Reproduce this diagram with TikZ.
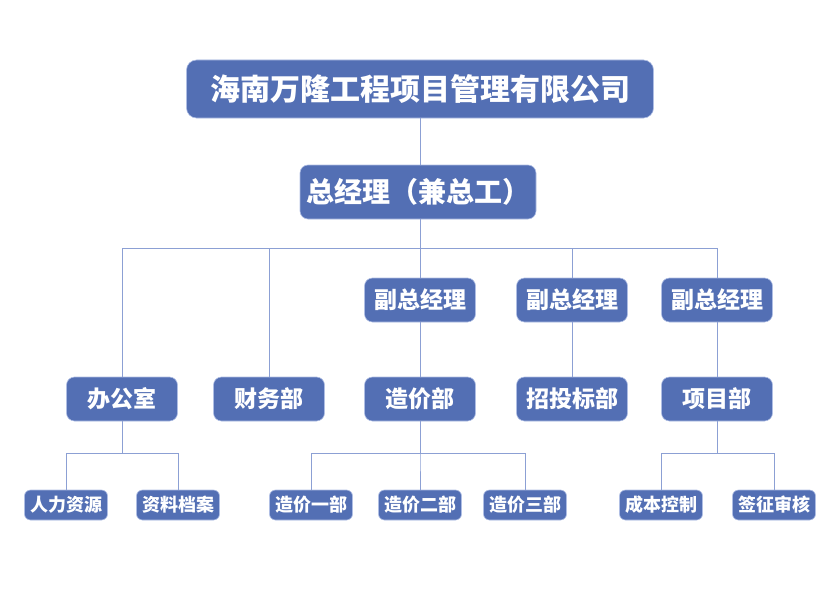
\documentclass[tikz,border=0pt]{standalone}
\usepackage{fontspec}
\newfontfamily\cjk{Noto Sans CJK SC}
\usepackage{tikz}
\usetikzlibrary{positioning}
\definecolor{orgblue}{RGB}{83,111,180}
\definecolor{orgedge}{RGB}{175,190,228}
\definecolor{orgline}{RGB}{140,160,212}
\tikzset{
  orgbox/.style={
    draw=orgedge, fill=orgblue, text=white, line width=0.6pt,
    rounded corners=8pt, inner sep=0pt, align=center
  },
  headbox/.style={
    orgbox, rounded corners=10pt, minimum width=467, minimum height=58,
    font=\cjk\bfseries\fontsize{30}{36}\selectfont
  },
  gmbox/.style={
    orgbox, minimum width=236, minimum height=54,
    font=\cjk\bfseries\fontsize{28}{34}\selectfont
  },
  midbox/.style={
    orgbox, minimum width=111, minimum height=44,
    font=\cjk\bfseries\fontsize{23}{28}\selectfont
  },
  subbox/.style={
    orgbox, rounded corners=6pt, minimum width=83, minimum height=30,
    font=\cjk\bfseries\fontsize{18}{22}\selectfont
  },
  link/.style={orgline, line width=0.9pt}
}

\begin{document}
\begin{tikzpicture}[x=1pt, y=-1pt]
  \useasboundingbox (0,0) rectangle (840,594);
  % company and general manager
  \node[headbox] (co) at (420,89) {海南万隆工程项目管理有限公司};
  \node[gmbox] (gm) at (418,192) {总经理（兼总工）};
  % deputies
  \node[midbox] (vp1) at (420,300) {副总经理};
  \node[midbox] (vp2) at (572,300) {副总经理};
  \node[midbox] (vp3) at (717,300) {副总经理};
  % departments
  \node[midbox] (off) at (122,399) {办公室};
  \node[midbox] (fin) at (269,399) {财务部};
  \node[midbox] (cost) at (420,399) {造价部};
  \node[midbox] (bid) at (572,399) {招投标部};
  \node[midbox] (proj) at (717,399) {项目部};
  % sections
  \node[subbox] (hr) at (66,505) {人力资源};
  \node[subbox] (arch) at (178,505) {资料档案};
  \node[subbox] (c1) at (311,505) {造价一部};
  \node[subbox] (c2) at (420,505) {造价二部};
  \node[subbox] (c3) at (525,505) {造价三部};
  \node[subbox] (cc) at (661,505) {成本控制};
  \node[subbox] (vs) at (774,505) {签征审核};
  % connectors
  \coordinate (bus) at (420,248);
  \draw[link] (co.south) -- (co.south |- gm.north);
  \draw[link] (co.south |- gm.south) -- (bus);
  \foreach \n in {off, fin, vp1, vp2, vp3}
    \draw[link] (bus) -| (\n.north);
  \draw[link] (vp1.south) -- (cost.north);
  \draw[link] (vp2.south) -- (bid.north);
  \draw[link] (vp3.south) -- (proj.north);
  \foreach \p/\c in {off/hr, off/arch, cost/c1, cost/c2, cost/c3, proj/cc, proj/vs}
    \draw[link] (\p.south) -- ++(0,32) -| (\c.north);
\end{tikzpicture}
\end{document}
